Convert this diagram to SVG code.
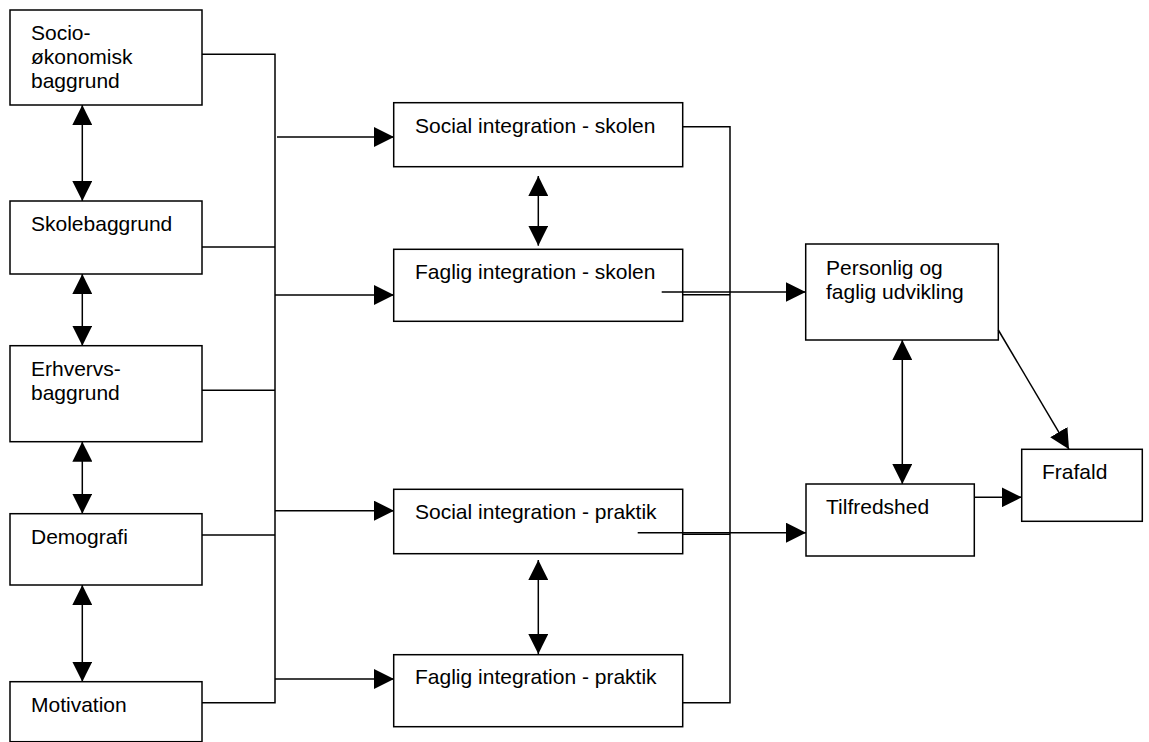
<svg xmlns="http://www.w3.org/2000/svg" width="1149" height="742" viewBox="0 0 1149 742">
<defs>
<marker id="ah" markerUnits="userSpaceOnUse" markerWidth="20" markerHeight="20" refX="20" refY="10" orient="auto-start-reverse" viewBox="0 0 20 20">
<path d="M0,0 L20,10 L0,20 z" fill="#000"/>
</marker>
<style>
.box{fill:#fff;stroke:#000;stroke-width:1.5}
.t{font-family:"Liberation Sans",Arial,sans-serif;font-size:21px;fill:#000}
.c{fill:none;stroke:#000;stroke-width:1.5}
.a{fill:none;stroke:#000;stroke-width:1.5;marker-end:url(#ah)}
.d{fill:none;stroke:#000;stroke-width:1.5;marker-start:url(#ah);marker-end:url(#ah)}
</style>
</defs>
<rect width="1149" height="742" fill="#fff"/>
<g id="socio"><rect class="box" x="10" y="10" width="192" height="95"/><text class="t" x="31" y="39.5">Socio-</text><text class="t" x="31" y="63.5">økonomisk</text><text class="t" x="31" y="87.5">baggrund</text></g>
<g id="skole"><rect class="box" x="10" y="201" width="192" height="73"/><text class="t" x="31" y="231">Skolebaggrund</text></g>
<g id="erhverv"><rect class="box" x="10" y="345.7" width="192" height="96"/><text class="t" x="31" y="376">Erhvervs-</text><text class="t" x="31" y="400">baggrund</text></g>
<g id="demografi"><rect class="box" x="10" y="513.7" width="192" height="71.3"/><text class="t" x="31" y="544">Demografi</text></g>
<g id="motivation"><rect class="box" x="10" y="681.7" width="192" height="60"/><text class="t" x="31" y="712">Motivation</text></g>
<g id="social-skolen"><rect class="box" x="393.7" y="102.7" width="289" height="64"/><text class="t" x="415" y="132.7">Social integration - skolen</text></g>
<g id="faglig-skolen"><rect class="box" x="393.7" y="249.3" width="289" height="72"/><text class="t" x="415" y="279.3">Faglig integration - skolen</text></g>
<g id="social-praktik"><rect class="box" x="393.7" y="489.3" width="289" height="64.4"/><text class="t" x="415" y="519.3">Social integration - praktik</text></g>
<g id="faglig-praktik"><rect class="box" x="393.7" y="654.7" width="289" height="72"/><text class="t" x="415" y="684">Faglig integration - praktik</text></g>
<g id="personlig"><rect class="box" x="805.7" y="244" width="192.6" height="96"/><text class="t" x="826" y="275">Personlig og</text><text class="t" x="826" y="299">faglig udvikling</text></g>
<g id="tilfredshed"><rect class="box" x="806" y="484" width="168.3" height="72"/><text class="t" x="826" y="514">Tilfredshed</text></g>
<g id="frafald"><rect class="box" x="1021.7" y="449.3" width="120.6" height="72"/><text class="t" x="1042" y="479.3">Frafald</text></g>
<g id="connectors">
<polyline class="c" points="202,54.3 275,54.3 275,702.7 202,702.7"/>
<line class="c" x1="202" y1="247" x2="275" y2="247"/>
<line class="c" x1="202" y1="390.3" x2="275" y2="390.3"/>
<line class="c" x1="202" y1="535" x2="275" y2="535"/>
<line class="a" x1="277" y1="137" x2="394" y2="137"/>
<line class="a" x1="275" y1="295" x2="394" y2="295"/>
<line class="a" x1="275" y1="510.7" x2="394" y2="510.7"/>
<line class="a" x1="275" y1="679" x2="394" y2="679"/>
<line class="d" x1="82.3" y1="105" x2="82.3" y2="201"/>
<line class="d" x1="82.3" y1="274" x2="82.3" y2="345.7"/>
<line class="d" x1="82.3" y1="441.7" x2="82.3" y2="513.7"/>
<line class="d" x1="82.3" y1="585" x2="82.3" y2="681.7"/>
<line class="d" x1="538.3" y1="176" x2="538.3" y2="245.7"/>
<line class="d" x1="538.3" y1="560" x2="538.3" y2="654"/>
<polyline class="c" points="682.7,126.7 730,126.7 730,702.7 682.7,702.7"/>
<line class="a" x1="661.7" y1="292" x2="805.7" y2="292"/>
<line class="c" x1="682.7" y1="294.7" x2="730" y2="294.7"/>
<line class="a" x1="637.7" y1="532.7" x2="806" y2="532.7"/>
<line class="c" x1="682.7" y1="534.3" x2="730" y2="534.3"/>
<line class="d" x1="902.3" y1="340" x2="902.3" y2="484"/>
<line class="a" x1="998.3" y1="330" x2="1069" y2="449.3"/>
<line class="a" x1="974.3" y1="497.3" x2="1021.7" y2="497.3"/>
</g>
</svg>
